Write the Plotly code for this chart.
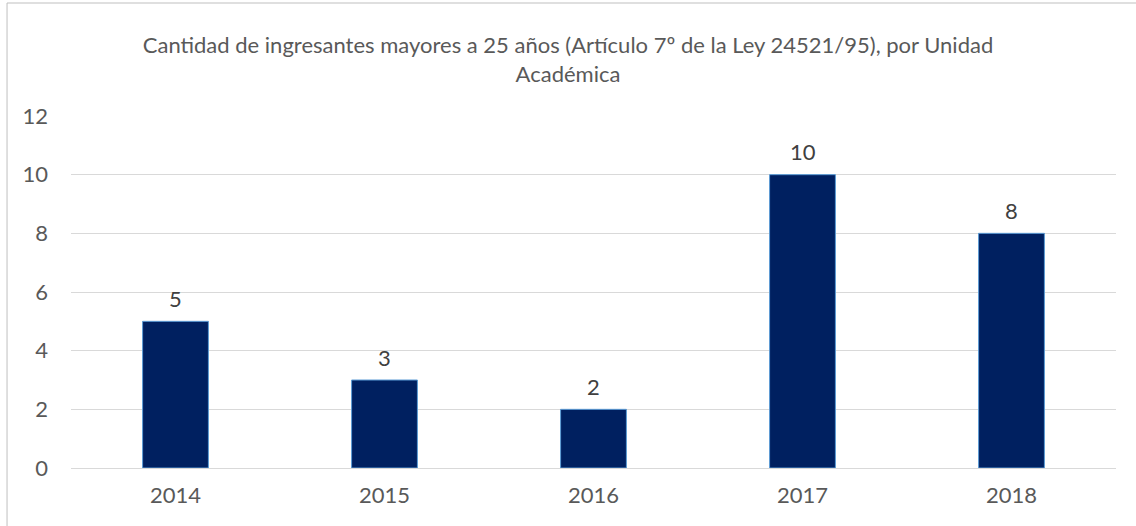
import plotly.graph_objects as go

years = ["2014", "2015", "2016", "2017", "2018"]
ingresantes = [5, 3, 2, 10, 8]

TITLE = ("Cantidad de ingresantes mayores a 25 años (Artículo 7º de la Ley 24521/95), por Unidad"
         "<br>Académica")

FONT = "Lato, 'Open Sans', sans-serif"
GRID = "#D9D9D9"

fig = go.Figure()
fig.add_trace(go.Bar(
    x=years, y=ingresantes,
    marker=dict(color="#002060", line=dict(color="#5B9BD5", width=1)),
    hoverinfo="x+y",
))

# value labels sit a bit higher above the bars than plotly's default "outside" text.
# numeric-looking category names get read as indices by annotations, so pass the index.
for i, val in enumerate(ingresantes):
    fig.add_annotation(x=i, y=val, text=str(val), showarrow=False,
                       yanchor="middle", yshift=23,
                       font=dict(size=22, color="#404040", family=FONT))

fig.update_layout(
    template="plotly_white",
    width=1136, height=526,
    paper_bgcolor="white", plot_bgcolor="white",
    font=dict(family=FONT, color="#595959"),
    title=dict(text=TITLE, x=0.5, xanchor="center", y=0.899, yanchor="middle",
               font=dict(size=22, color="#595959", family=FONT)),
    bargap=0.685,
    showlegend=False,
    margin=dict(l=71, r=20, t=116, b=58),
    xaxis=dict(type="category", showgrid=False, showline=False, ticks="",
               tickfont=dict(size=22), ticklabelstandoff=12),
    yaxis=dict(range=[0, 12], dtick=2, showgrid=True, gridcolor=GRID, gridwidth=1,
               zeroline=True, zerolinecolor=GRID, zerolinewidth=1,
               showline=False, ticks="", tickfont=dict(size=22), ticklabelstandoff=22),
    shapes=[
        dict(type="line", xref="paper", yref="paper", x0=-0.0612, x1=-0.0612,
             y0=-0.2, y1=1.321, line=dict(color="#BFBFBF", width=1)),
        dict(type="line", xref="paper", yref="paper", x0=-0.0612, x1=1.1,
             y0=1.321, y1=1.321, line=dict(color="#BFBFBF", width=1)),
    ],
)

fig.write_html("out.html", config={"displayModeBar": False},
               post_script="document.body.style.margin = '0';")
